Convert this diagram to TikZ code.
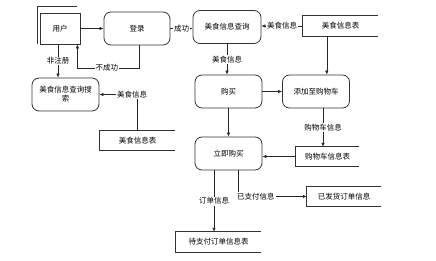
\documentclass[tikz,border=0pt]{standalone}
\usepackage{fontspec}
\setmainfont{Noto Sans CJK SC}
\usetikzlibrary{arrows.meta}
\begin{document}
\begin{tikzpicture}[x=1pt,y=-1pt,
  every node/.style={font=\fontsize{7.5}{9}\selectfont, inner sep=0pt},
  proc/.style={draw=black!80, rounded corners=7pt, line width=0.8pt},
  ent/.style={draw=black!80, line width=0.8pt},
  store/.style={},
  storeline/.style={draw=black!80, line width=0.8pt},
  arr/.style={draw=black!85, line width=0.6pt, -{Latex[length=4pt,width=3.5pt]}},
  ln/.style={draw=black!85, line width=0.6pt},
  lab/.style={fill=white, inner sep=1pt}]
\useasboundingbox (0,0) rectangle (436,261);
% nodes
\node[ent, minimum width=40pt, minimum height=31pt] (user) at (60,28.5) {用户};
\node[proc, minimum width=66pt, minimum height=33pt] (login) at (137,28.5) {登录};
\node[proc, minimum width=68pt, minimum height=33pt] (query) at (227,27) {美食信息查询};
\node[store, minimum width=75pt, minimum height=20pt] (store1) at (340.5,26) {美食信息表};
\node[proc, minimum width=67pt, minimum height=33pt] (buy) at (228.5,91.5) {购买};
\node[proc, minimum width=67pt, minimum height=33pt] (add) at (316,91.5) {添加至购物车};
\node[proc, minimum width=67pt, minimum height=33pt] (now) at (228.5,153.5) {立即购买};
\node[store, minimum width=63pt, minimum height=19pt] (cart) at (327.5,156.5) {购物车信息表};
\node[store, minimum width=74pt, minimum height=19pt] (shipped) at (344,196.5) {已发货订单信息};
\node[store, minimum width=85pt, minimum height=20pt] (pending) at (218.5,242) {待支付订单信息表};
\node[proc, minimum width=67pt, minimum height=33pt, align=center] (search) at (65.5,94.5) {美食信息查询搜\\索};
\node[store, minimum width=75pt, minimum height=19pt] (store2) at (137.5,140.5) {美食信息表};
% entity shadow lines
\draw[ent] (37,44) -- (37,6) -- (77,6);
% data store outlines
\foreach \s in {store1,cart,shipped,pending,store2}
  \draw[storeline] (\s.north east) -- (\s.north west) -- (\s.south west) -- (\s.south east);
% connectors
\draw[arr] (user.east |- login.west) -- (login.west);
\draw[arr] (login.east) -- (login.east -| query.west) node[midway, lab] {成功};
\draw[arr] (store1.west) -- (store1.west -| query.east) node[midway, lab] {美食信息};
\draw[arr] ([xshift=24pt]store1.south west) -- ([xshift=24pt]store1.south west |- add.north);
\draw[arr] (query.south) -- (query.south |- buy.north) node[midway, lab] {美食信息};
\draw[arr] (buy.east) -- (add.west);
\draw[arr] (buy.south) -- (now.north);
\draw[arr] ([xshift=7pt]add.south) -- ([xshift=7pt]add.south |- cart.north) node[midway, lab] {购物车信息};
\draw[arr] (cart.west) -- (cart.west -| now.east);
\draw[arr] ([xshift=-14.5pt]now.south) -- ([xshift=-14.5pt]now.south |- pending.north) node[midway, lab] {订单信息};
\draw[arr] ([xshift=9.5pt]now.south) |- (shipped.west) node[pos=0.63, lab] {已支付信息};
\draw[arr] ([xshift=-2pt]user.south) -- ([xshift=-2pt]user.south |- search.north) node[midway, lab] {非注册};
\draw[arr] ([xshift=2pt]login.south) -- ++(0,22.5) -| ([xshift=-3pt]user.south east) node[pos=0.26, lab] {不成功};
\draw[arr] (store2.north) |- (search.east) node[pos=0.57, lab] {美食信息};
\end{tikzpicture}
\end{document}
